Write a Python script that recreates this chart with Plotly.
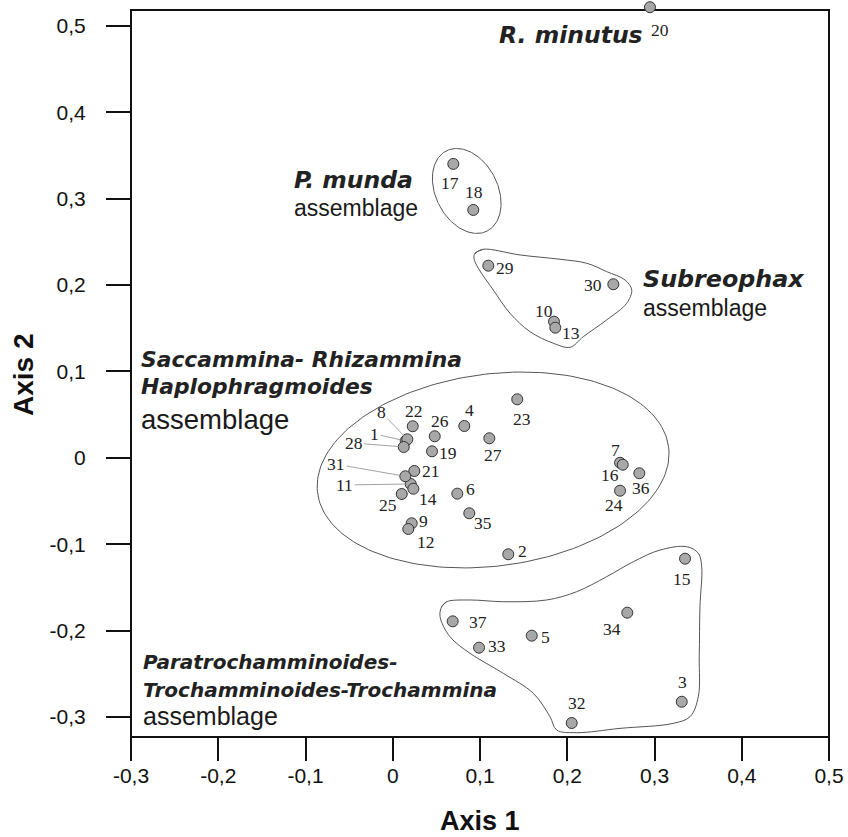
import numpy as np
import plotly.graph_objects as go

# ---------------- data ----------------
SAMPLE_IDS = [str(i) for i in range(1, 38)]
AXIS1 = [0.0148, 0.1324, 0.3312, 0.0820, 0.1593, 0.0740, 0.2605, 0.0167, 0.0217, 0.1848,
         0.0206, 0.0178, 0.1863, 0.0236, 0.3350, 0.2636, 0.0694, 0.0923, 0.0450, 0.2948,
         0.0247, 0.0229, 0.1427, 0.2605, 0.0103, 0.0481, 0.1107, 0.0126, 0.1095, 0.2528,
         0.0144, 0.2051, 0.0989, 0.2688, 0.0877, 0.2826, 0.0687]
AXIS2 = [0.0196, -0.1116, -0.2823, 0.0369, -0.2058, -0.0414, -0.0056, 0.0215, -0.0757, 0.1577,
         -0.0302, -0.0823, 0.1507, -0.0357, -0.1167, -0.0079, 0.3403, 0.2870, 0.0076, 0.5217,
         -0.0152, 0.0366, 0.0678, -0.0380, -0.0418, 0.0250, 0.0227, 0.0126, 0.2225, 0.2010,
         -0.0213, -0.3069, -0.2197, -0.1792, -0.0641, -0.0178, -0.1892]

TICK_VALS = [-0.3, -0.2, -0.1, 0.0, 0.1, 0.2, 0.3, 0.4, 0.5]
TICK_TEXT = ["-0,3", "-0,2", "-0,1", "0", "0,1", "0,2", "0,3", "0,4", "0,5"]

# ---------------- layout geometry ----------------
W, H = 848, 837
ML, MR, MT, MB = 131, 19, 4, 100
X_RANGE = [-0.3, 0.5]
Y_RANGE = [-0.3231, 0.5254]
FRAME_TOP = 0.5185
PX_X = (W - ML - MR) / (X_RANGE[1] - X_RANGE[0])
PX_Y = (H - MT - MB) / (Y_RANGE[1] - Y_RANGE[0])

# label offsets in pixels (dx right, dy down) ; leader = drawn with a thin line
LABEL_OFFSETS = {
    "1": (-31, -7, True), "2": (14, -3, False), "3": (1, -20, False), "4": (5, -16, False),
    "5": (14, 1, False), "6": (13, -5, False), "7": (-5, -13, False), "8": (-26, -27, True),
    "9": (12, -2, False), "10": (-10, -11, False), "11": (-66, 1, True), "12": (18, 13, False),
    "13": (16, 5, False), "14": (15, 10, False), "15": (-3, 20, False), "16": (-13, 10, False),
    "17": (-3, 19, False), "18": (1, -18, False), "19": (16, 2, False), "20": (10, 23, False),
    "21": (17, 0, False), "22": (1, -15, False), "23": (5, 20, False), "24": (-6, 14, False),
    "25": (-14, 11, False), "26": (5, -15, False), "27": (4, 17, False), "28": (-50, -4, True),
    "29": (17, 2, False), "30": (-20, 1, False), "31": (-69, -12, True), "32": (5, -20, False),
    "33": (18, -2, False), "34": (-15, 16, False), "35": (14, 10, False), "36": (2, 15, False),
    "37": (25, 1, False),
}

# group outlines (decoration)
SUB_X = [0.0943, 0.1038, 0.1458, 0.1917, 0.2223, 0.2452, 0.2662, 0.2739, 0.2681, 0.2452,
         0.2184, 0.2032, 0.1840, 0.1573, 0.1344, 0.1152, 0.0981, 0.0931]
SUB_Y = [0.2369, 0.2415, 0.2349, 0.2299, 0.2253, 0.2156, 0.2060, 0.1944, 0.1790, 0.1597,
         0.1403, 0.1280, 0.1327, 0.1461, 0.1674, 0.1944, 0.2195, 0.2311]
PAR_X = [0.0561, 0.0618, 0.0885, 0.1267, 0.1764, 0.2108, 0.2452, 0.2757, 0.3063, 0.3369,
         0.3502, 0.3541, 0.3521, 0.3513, 0.3502, 0.3407, 0.3215, 0.2605, 0.2108, 0.1879,
         0.1802, 0.1611, 0.1267, 0.0885, 0.0656, 0.0542]
PAR_Y = [-0.1723, -0.1665, -0.1645, -0.1665, -0.1645, -0.1549, -0.1375, -0.1202, -0.1067, -0.1028,
         -0.1104, -0.1260, -0.1723, -0.2302, -0.2765, -0.2996, -0.3073, -0.3131, -0.3181, -0.3150,
         -0.2996, -0.2725, -0.2494, -0.2262, -0.2070, -0.1838]

# ellipses: centre (data), semi-axes (px), rotation (deg, ccw on screen)
ELLIPSES = [
    ((0.0848, 0.3090), 45, 31, -63),
    ((0.1150, -0.0140), 177, 96, 7.5),
]

fig = go.Figure()

OUTLINE = dict(color="#555555", width=1)

def closed(xs, ys):
    return xs + xs[:2], ys + ys[:2]

for xs, ys in [(SUB_X, SUB_Y), (PAR_X, PAR_Y)]:
    cx, cy = closed(xs, ys)
    fig.add_trace(go.Scatter(x=cx, y=cy, mode="lines", line=dict(shape="spline", smoothing=1.0, **OUTLINE),
                             hoverinfo="skip", showlegend=False))

t = np.linspace(0, 2 * np.pi, 200)
for (cxd, cyd), a, b, ang in ELLIPSES:
    th = np.deg2rad(ang)
    ex = a * np.cos(t) * np.cos(th) - b * np.sin(t) * np.sin(th)
    ey = a * np.cos(t) * np.sin(th) + b * np.sin(t) * np.cos(th)
    fig.add_trace(go.Scatter(x=cxd + ex / PX_X, y=cyd + ey / PX_Y, mode="lines", line=OUTLINE,
                             hoverinfo="skip", showlegend=False))

fig.add_trace(go.Scatter(
    x=AXIS1, y=AXIS2, mode="markers", text=SAMPLE_IDS, cliponaxis=False,
    marker=dict(size=11, color="#a8a8a8", line=dict(color="#333333", width=1)),
    showlegend=False, hoverinfo="text"))

NUM_FONT = dict(family="Liberation Serif, Times New Roman, serif", size=17.5, color="#222222")
annotations = []
for sid, xv, yv in zip(SAMPLE_IDS, AXIS1, AXIS2):
    dx, dy, leader = LABEL_OFFSETS[sid]
    if leader:
        annotations.append(dict(x=xv, y=yv, xref="x", yref="y", text=sid, showarrow=True,
                                ax=dx, ay=dy, arrowhead=0, arrowwidth=0.8, arrowcolor="#8a8a8a",
                                standoff=5, font=NUM_FONT))
    else:
        annotations.append(dict(x=xv, y=yv, xref="x", yref="y", text=sid, showarrow=False,
                                xshift=dx, yshift=-dy, font=NUM_FONT))

BI = "DejaVu Sans, sans-serif"
RG = "Liberation Sans, Arial, sans-serif"

def px2x(px):
    return X_RANGE[0] + (px - ML) / PX_X

def px2y(py):
    return Y_RANGE[1] - (py - MT) / PX_Y

# group labels: (text, left px, centre px, family, size, bold-italic)
GROUP_LABELS = [
    ("R. minutus", 497, 35, BI, 23.5, True),
    ("P. munda", 292, 180, BI, 23.5, True),
    ("assemblage", 292, 208, RG, 23, False),
    ("Subreophax", 641, 279, BI, 23.8, True),
    ("assemblage", 641, 308, RG, 23, False),
    ("Saccammina- Rhizammina", 139, 359, BI, 21.8, True),
    ("Haplophragmoides", 139, 386, BI, 21.8, True),
    ("assemblage", 139, 419, RG, 27.5, False),
    ("Paratrochamminoides-", 141, 662, BI, 20, True),
    ("Trochamminoides-Trochammina", 141, 690, BI, 20, True),
    ("assemblage", 141, 716, RG, 25, False),
]
for txt, lx, cy, fam, sz, bi in GROUP_LABELS:
    t_html = f"<b><i>{txt}</i></b>" if bi else txt
    annotations.append(dict(x=px2x(lx), y=px2y(cy), xref="x", yref="y", text=t_html, showarrow=False,
                            xanchor="left", yanchor="middle",
                            font=dict(family=fam, size=sz, color="#222222" if bi else "#1a1a1a")))

PH = H - MT - MB
annotations.append(dict(x=0.5, y=(H - MB - 821) / PH, xref="paper", yref="paper",
                        text="<b>Axis 1</b>", showarrow=False, xanchor="center", yanchor="middle",
                        font=dict(family=RG, size=27, color="#111111")))
annotations.append(dict(x=(23 - ML) / (W - ML - MR), y=(H - MB - 375) / PH,
                        xref="paper", yref="paper", text="<b>Axis 2</b>", showarrow=False,
                        textangle=-90, xanchor="center", yanchor="middle",
                        font=dict(family=RG, size=28, color="#111111")))

frame_top_paper = (FRAME_TOP - Y_RANGE[0]) / (Y_RANGE[1] - Y_RANGE[0])
shapes = [dict(type="rect", xref="paper", yref="paper", x0=0, x1=1, y0=0, y1=frame_top_paper,
               line=dict(color="#111111", width=2), layer="below")]

axis_common = dict(tickvals=TICK_VALS, ticktext=TICK_TEXT, ticks="outside", tickwidth=2,
                   tickcolor="#111111", showline=False, showgrid=False, zeroline=False,
                   tickfont=dict(family=RG, size=21, color="#111111"))

fig.update_layout(
    width=W, height=H, margin=dict(l=ML, r=MR, t=MT, b=MB),
    paper_bgcolor="white", plot_bgcolor="white",
    xaxis=dict(range=X_RANGE, ticklen=23, ticklabelstandoff=-3, **axis_common),
    yaxis=dict(range=Y_RANGE, ticklen=24, ticklabelstandoff=16, **axis_common),
    annotations=annotations, shapes=shapes,
)

fig.write_html("out.html")
